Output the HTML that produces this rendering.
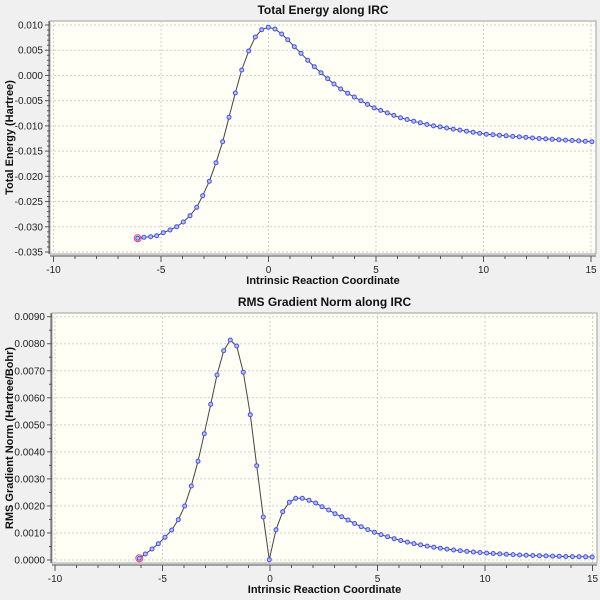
<!DOCTYPE html>
<html><head><meta charset="utf-8"><style>
body{margin:0;background:#f0f0f0;}
svg{display:block;font-family:"Liberation Sans",sans-serif;}
</style></head><body>
<svg id="s" width="600" height="600" xmlns="http://www.w3.org/2000/svg"></svg>
<script>
const s=document.getElementById('s');let h='';
function plot(o){
 const {L,R,T,B,x0,xs,ymaxPx,yminPx,ymax,ymin,ystep,dec,minor,title,ylab,pts}=o;
 h+=`<rect x="${L}" y="${T}" width="${R-L}" height="${B-T}" fill="#fffff6" stroke="#a0a0a0"/>`;
 const yp=v=>ymaxPx+(ymax-v)/(ymax-ymin)*(yminPx-ymaxPx);
 const xp=v=>x0+(v+10)*xs;
 const n=Math.round((ymax-ymin)/ystep);
 for(let i=0;i<=n;i++){const v=ymin+i*ystep,y=yp(v);
  h+=`<line x1="${L}" x2="${R}" y1="${y}" y2="${y}" stroke="#d0d0d0" stroke-dasharray="2,2"/>`;
  h+=`<line x1="${L-5}" x2="${L}" y1="${y}" y2="${y}" stroke="#555"/>`;
  h+=`<text x="${L-7}" y="${y+3.5}" font-size="10" text-anchor="end" fill="#222">${v.toFixed(dec)}</text>`;
  if(i<n)for(let k=1;k<minor;k++){const yy=yp(v+ystep*k/minor);h+=`<line x1="${L-3}" x2="${L}" y1="${yy}" y2="${yy}" stroke="#555"/>`;}
 }
 for(let v=-10;v<=15;v++){const x=xp(v);
  if(v%5==0){h+=`<line x1="${x}" x2="${x}" y1="${T}" y2="${B}" stroke="#d0d0d0" stroke-dasharray="2,2"/>`;
   h+=`<line x1="${x}" x2="${x}" y1="${B+2}" y2="${B+8}" stroke="#555"/>`;
   h+=`<text x="${x}" y="${B+19}" font-size="10" text-anchor="middle" fill="#222">${v}</text>`;}
  else h+=`<line x1="${x}" x2="${x}" y1="${B+2}" y2="${B+5}" stroke="#555"/>`;
 }
 h+=`<line x1="${L-1}" x2="${L-1}" y1="${T}" y2="${B}" stroke="#555"/>`;
 h+=`<line x1="${L}" x2="${R}" y1="${B+2}" y2="${B+2}" stroke="#555"/>`;
 h+=`<text x="${(L+R)/2}" y="${T-7}" font-size="12" font-weight="bold" text-anchor="middle" fill="#111">${title}</text>`;
 h+=`<text x="${(L+R)/2}" y="${B+30}" font-size="11" font-weight="bold" text-anchor="middle" fill="#111">Intrinsic Reaction Coordinate</text>`;
 h+=`<text transform="translate(13,${(T+B)/2}) rotate(-90)" font-size="11" font-weight="bold" text-anchor="middle" fill="#111">${ylab}</text>`;
 h+=`<polyline fill="none" stroke="#444" stroke-width="1" points="${pts.map(p=>p.join(',')).join(' ')}"/>`;
 pts.forEach((p,i)=>{h+=`<circle cx="${p[0]}" cy="${p[1]}" r="2" fill="#b8c0ff" stroke="#4050f0" stroke-width="1"/>`;});
 h+=`<circle cx="${pts[0][0]}" cy="${pts[0][1]}" r="3.5" fill="none" stroke="#f04060" stroke-width="1"/>`;
}
function interp(k,x){for(let i=0;i<k.length-1;i++){if(x<=k[i+1][0]){const t=(x-k[i][0])/(k[i+1][0]-k[i][0]);return k[i][1]+t*(k[i+1][1]-k[i][1]);}}return k[k.length-1][1];}
let p1=[[137.7,238.3],[144,237.3],[150.7,236.7],[156.7,235.7],[163.3,232.7],[170,230],[176.7,226.7],[183.3,222],[190,215.7],[196.7,207.3],[202.7,195.7],[209.3,181.3],[216,162.7],[222.7,141.7],[229,117.3],[235.3,93],[241.7,70],[248.7,51],[255.3,37],[261.7,29.7],[268.3,27.3],[275,29],[281.7,34],[287.7,39.7],[294.3,46.7],[301,53.3],[307.7,60.3],[314.3,66.7],[321,72.7],[327.7,78.7],[334,84],[340.7,89],[347.7,93.3]];
const k1=[[347.7,93.3],[373,107.5],[400,117.7],[430,125.3],[484,134],[540,138.6],[592,141.7]];
for(let x=354.3;x<=592;x+=6.6)p1.push([+x.toFixed(1),+interp(k1,x).toFixed(1)]);
let p2=[[139.3,558.3],[145.3,554],[152,549],[158.3,543.7],[165,537.3],[171.7,530],[178.3,519.7],[184.7,506],[191.3,486],[198,461.3],[204.3,433.7],[210.7,404.3],[217,375],[223.7,350.7],[230.3,340],[236.7,346],[243.3,372.3],[250.3,414.7],[256.7,465.7],[263.3,517],[269.3,559.7],[276,529.7],[282.7,511.7],[289.3,502.3],[295.7,498.3],[302.3,498.3],[309,500.3],[315.7,503],[322,506.7],[328.7,510],[335,513.7],[341.7,516.7],[348,520]];
for(let x=354.6;x<=593;x+=6.6)p2.push([+x.toFixed(1),+(558-38*Math.exp(-(x-348)/68)).toFixed(1)]);
plot({L:50,R:596,T:21,B:254,x0:53.5,xs:21.5,ymaxPx:25,yminPx:252,ymax:0.010,ymin:-0.035,ystep:0.005,dec:3,minor:5,title:"Total Energy along IRC",ylab:"Total Energy (Hartree)",pts:p1});
plot({L:52,R:597,T:313,B:563,x0:55,xs:21.5,ymaxPx:316.7,yminPx:560,ymax:0.009,ymin:0,ystep:0.001,dec:4,minor:2,title:"RMS Gradient Norm along IRC",ylab:"RMS Gradient Norm (Hartree/Bohr)",pts:p2});
s.innerHTML=h;
</script>
</body></html>
